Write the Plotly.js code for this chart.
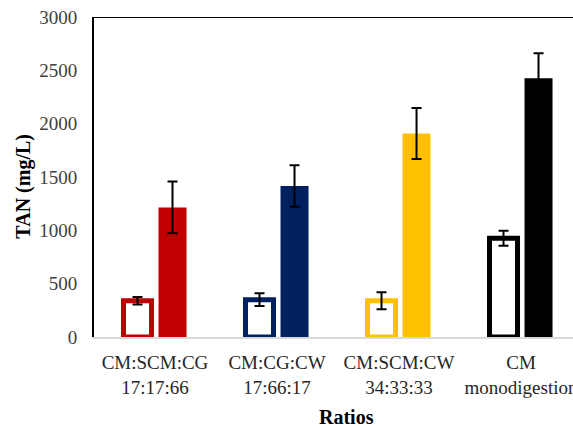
<!DOCTYPE html>
<html>
<head>
<meta charset="utf-8">
<script src="https://cdn.plot.ly/plotly-3.0.1.min.js"></script>
<style>html,body{margin:0;padding:0;background:#fff;overflow:hidden;}#chart{width:573px;height:427px;}</style>
</head>
<body>
<div id="chart"></div>
<script>
const categories = ['CM:SCM:CG<br>17:17:66', 'CM:CG:CW<br>17:66:17', 'CM:SCM:CW<br>34:33:33', 'CM<br>monodigestion'];
const colors = ['#C00000', '#002060', '#FFC000', '#000000'];
const hollowValues = [340, 350, 340, 925];
const hollowErrors = [36, 60, 80, 70];
const filledValues = [1215, 1415, 1908, 2425];
const filledErrors = [243, 195, 240, 235];
const yTitle = 'TAN (mg/L)';
const xTitle = 'Ratios';

const font = "'Liberation Serif', 'Times New Roman', serif";

const errStyle = {type: 'data', visible: true, color: '#000000', thickness: 2, width: 5};

const traces = [
  {
    type: 'bar', x: categories, y: hollowValues,
    marker: {color: '#ffffff', line: {color: colors, width: 5}},
    error_y: Object.assign({array: hollowErrors}, errStyle),
    hoverinfo: 'skip'
  },
  {
    type: 'bar', x: categories, y: filledValues,
    marker: {color: colors, line: {width: 0}},
    error_y: Object.assign({array: filledErrors}, errStyle),
    hoverinfo: 'skip'
  }
];

const layout = {
  width: 573, height: 427,
  margin: {l: 94, r: 0, t: 17, b: 90, pad: 0},
  paper_bgcolor: '#ffffff', plot_bgcolor: '#ffffff',
  showlegend: false,
  barmode: 'group', bargap: 0.426, bargroupgap: 0.2,
  font: {family: font, size: 19, color: '#404040'},
  xaxis: {
    type: 'category', range: [-0.5, 3.426],
    showgrid: false, zeroline: false,
    showline: true, linecolor: '#d9d9d9', linewidth: 2,
    ticks: '', tickfont: {family: font, size: 19, color: '#262626'},
    ticklabelstandoff: 7
  },
  yaxis: {
    range: [0, 3000], tick0: 0, dtick: 500,
    showgrid: false, zeroline: false,
    showline: true, linecolor: '#000000', linewidth: 2,
    ticks: '', tickfont: {family: font, size: 19, color: '#404040'},
    ticklabelstandoff: 11
  },
  shapes: [
    {type: 'line', xref: 'paper', yref: 'y', x0: 0, x1: 1, y0: 3000, y1: 3000, line: {color: '#000000', width: 2}}
  ],
  annotations: [
    {text: '<b>' + yTitle + '</b>', xref: 'paper', yref: 'paper', x: -0.146, y: 0.47, xanchor: 'center', yanchor: 'middle', textangle: -90, showarrow: false, font: {family: font, size: 20, color: '#000000'}},
    {text: '<b>' + xTitle + '</b>', xref: 'paper', yref: 'paper', x: 0.528, y: -0.25, xanchor: 'center', yanchor: 'middle', showarrow: false, font: {family: font, size: 20, color: '#000000'}}
  ]
};

Plotly.newPlot('chart', traces, layout, {staticPlot: true, displayModeBar: false});
</script>
</body>
</html>
